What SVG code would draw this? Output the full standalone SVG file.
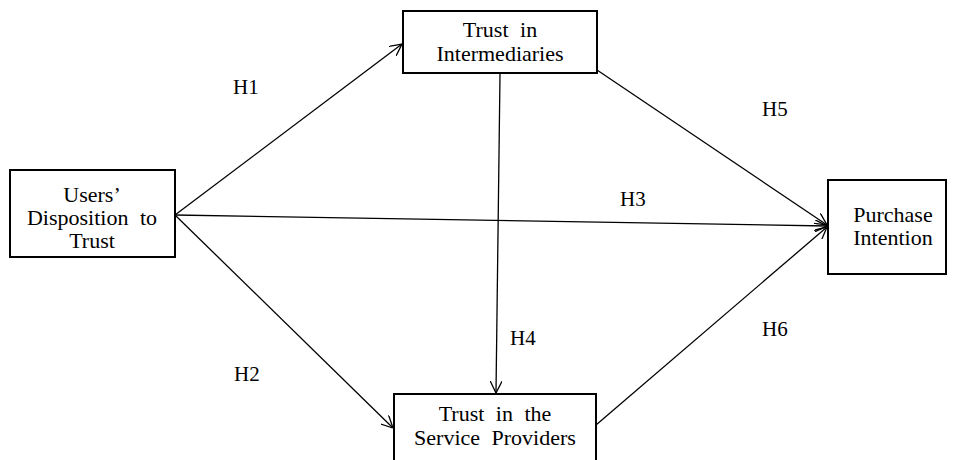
<svg xmlns="http://www.w3.org/2000/svg" width="953" height="460" viewBox="0 0 953 460" font-family="'Liberation Serif', 'Times New Roman', Times, 'DejaVu Serif', serif">
<style>
.box{fill:#fff;stroke:#000;stroke-width:2}
text{font-family:'Liberation Serif','Times New Roman',Times,'DejaVu Serif',serif;fill:#000}
.t{font-size:22px;text-anchor:middle}
.l{font-size:21px}
.c{stroke:#000;stroke-width:1.3;fill:none;marker-end:url(#a)}
</style>
<defs>
<marker id="a" viewBox="0 0 12 12" refX="12" refY="6" markerWidth="12" markerHeight="12" markerUnits="userSpaceOnUse" orient="auto">
<path d="M0,0 L12,6 L0,12" fill="none" stroke="#000" stroke-width="1.3"/>
</marker>
</defs>
<rect width="953" height="460" fill="#fff"/>
<g id="connectors">
<line class="c" x1="175" y1="215" x2="402" y2="44"/>
<line class="c" x1="175" y1="215" x2="393" y2="428"/>
<line class="c" x1="175" y1="215" x2="827" y2="226"/>
<line class="c" x1="500" y1="74" x2="496" y2="393"/>
<line class="c" x1="597" y1="70" x2="827" y2="225"/>
<line class="c" x1="596" y1="425" x2="827" y2="227"/>
<text class="l" x="233" y="94">H1</text>
<text class="l" x="234" y="381">H2</text>
<text class="l" x="620" y="206">H3</text>
<text class="l" x="510" y="345">H4</text>
<text class="l" x="762" y="116">H5</text>
<text class="l" x="762" y="336">H6</text>
</g>
<g id="users">
<rect class="box" x="10" y="170" width="165" height="87"/>
<text class="t" x="92" y="202">Users’</text>
<text class="t" x="92" y="225" word-spacing="6">Disposition to</text>
<text class="t" x="92" y="248">Trust</text>
</g>
<g id="intermediaries">
<rect class="box" x="403" y="11" width="194" height="62"/>
<text class="t" x="500" y="37" word-spacing="6">Trust in</text>
<text class="t" x="500" y="61">Intermediaries</text>
</g>
<g id="service">
<rect class="box" x="394" y="394" width="202" height="72"/>
<text class="t" x="495" y="421" word-spacing="6">Trust in the</text>
<text class="t" x="495" y="445" word-spacing="6">Service Providers</text>
</g>
<g id="purchase">
<rect class="box" x="828" y="180" width="118" height="94"/>
<text class="t" x="893" y="222">Purchase</text>
<text class="t" x="893" y="245">Intention</text>
</g>
</svg>
